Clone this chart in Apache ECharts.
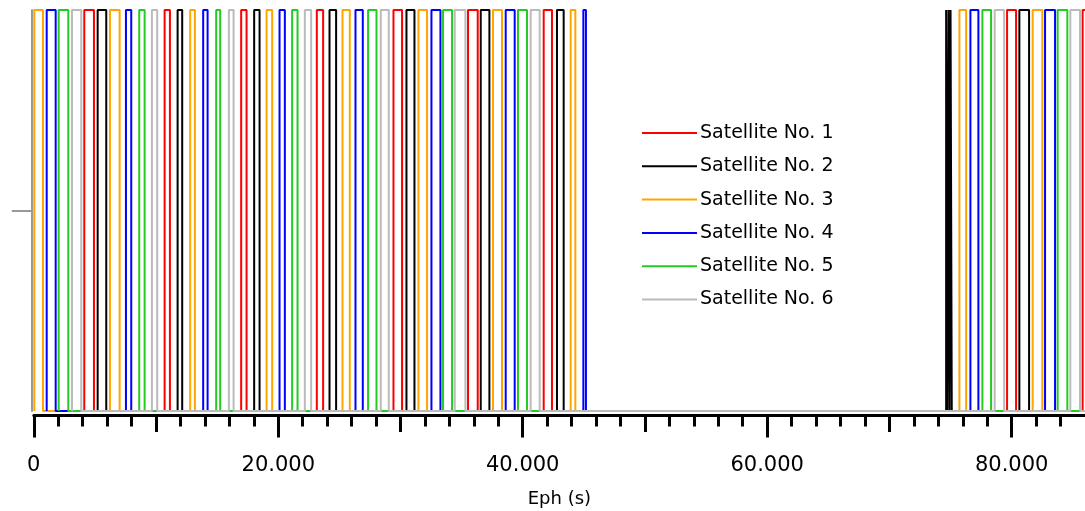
<!DOCTYPE html>
<html>
<head>
<meta charset="utf-8">
<script src="https://cdn.jsdelivr.net/npm/echarts@6/dist/echarts.min.js"></script>
<style>
html,body{margin:0;padding:0;background:#fff;}
#chart{width:1085px;height:511px;}
</style>
</head>
<body>
<div id="chart"></div>
<script>
// ---- data (seconds) ----
const satNames = ['Satellite No. 1','Satellite No. 2','Satellite No. 3','Satellite No. 4','Satellite No. 5','Satellite No. 6'];
const satColors = ['#ff0000','#000000','#ffa500','#0000ff','#22cc22','#bbbbbb'];
const xMin = 0;
const xMax = 86000;
// pulses [start, end] where value = 1
const sat1 = [[4129,4922],[10702,11136],[16965,17406],[23154,23670],[29425,30128],[35525,36318],[41714,42393],[79625,80361],[85806,86000]];
const sat2 = [[5224,5927],[11765,12141],[18028,18470],[24193,24733],[30488,31142],[36563,37274],[42801,43349],[74640,74740],[74830,74920],[75000,75100],[80630,81424]];
const sat3 = [[40,750],[6230,7023],[12795,13180],[19042,19500],[25255,25852],[31469,32173],[37569,38305],[43921,44305],[75726,76274],[81719,82512]];
const sat4 = [[1055,1790],[7538,7972],[13858,14218],[20104,20538],[26318,26915],[32532,33268],[38607,39342],[44959,45172],[76625,77279],[82732,83550]];
const sat5 = [[2036,2821],[8626,9067],[14921,15248],[21135,21576],[27349,28036],[33481,34217],[39612,40348],[77606,78317],[83763,84556]];
const sat6 = [[3123,3884],[9664,10097],[15960,16344],[22173,22688],[28387,29041],[34437,35312],[40651,41387],[78612,79381],[84801,85594]];
const satPulses = [sat1, sat2, sat3, sat4, sat5, sat6];
// axis ticks
const majorTicks = [0,20000,40000,60000,80000];
const majorLabels = ['0','20.000','40.000','60.000','80.000'];
const midTicks = [10000,30000,50000,70000];
const minorTicks = [0,2000,4000,6000,8000,10000,12000,14000,16000,18000,20000,22000,24000,26000,28000,30000,32000,34000,36000,38000,40000,42000,44000,46000,48000,50000,52000,54000,56000,58000,60000,62000,64000,66000,68000,70000,72000,74000,76000,78000,80000,82000,84000];
const yTicks = [0.5];

function toSteps(pulses, end) {
  const pts = [];
  pulses.forEach(function (p) {
    pts.push([p[0], 0], [p[0], 1], [p[1], 1]);
    if (p[1] < end) pts.push([p[1], 0]);
  });
  const last = pts[pts.length - 1];
  if (last[0] < end) pts.push([end, last[1]]);
  return pts;
}

const FONT = 'DejaVu Sans';
const chart = echarts.init(document.getElementById('chart'), null, {renderer: 'canvas'});

const series = satNames.map(function (name, i) {
  return {
    name: name,
    type: 'line',
    xAxisIndex: 0,
    yAxisIndex: 0,
    data: toSteps(satPulses[i], xMax),
    symbol: 'none',
    showSymbol: false,
    clip: false,
    lineStyle: {color: satColors[i], width: 2},
    itemStyle: {color: satColors[i]},
    emphasis: {disabled: true},
    animation: false
  };
});

function makeX(ticks, len, showLine, showLabel) {
  return {
    type: 'value',
    gridIndex: 0,
    position: 'bottom',
    min: xMin,
    max: xMax,
    offset: 4.5,
    splitLine: {show: false},
    axisLine: {show: showLine, onZero: false, lineStyle: {color: '#000', width: 3}},
    axisTick: {show: true, customValues: ticks, length: len, lineStyle: {color: '#000', width: 3}},
    axisLabel: showLabel ? {
      show: true,
      customValues: majorTicks,
      formatter: function (v) { return majorLabels[majorTicks.indexOf(v)]; },
      margin: 40,
      color: '#000',
      fontFamily: FONT,
      fontSize: 21
    } : {show: false},
    name: showLabel ? 'Eph (s)' : '',
    nameLocation: 'middle',
    nameGap: 75,
    nameTextStyle: {color: '#000', fontFamily: FONT, fontSize: 18}
  };
}

chart.setOption({
  animation: false,
  backgroundColor: '#fff',
  grid: {left: 33.8, right: 0, top: 10, bottom: 100, containLabel: false, outerBoundsMode: 'none'},
  legend: {
    orient: 'vertical',
    left: 642,
    top: 123.5,
    padding: 0,
    icon: 'rect',
    itemWidth: 55,
    itemHeight: 2,
    itemGap: 14.3,
    data: satNames,
    textStyle: {color: '#000', fontFamily: FONT, fontSize: 19, padding: [0, 0, 0, -2]},
    selectedMode: false
  },
  xAxis: [
    makeX(majorTicks, 22, true, true),
    makeX(midTicks, 16.5, false, false),
    makeX(minorTicks, 11, false, false)
  ],
  yAxis: {
    type: 'value',
    min: 0,
    max: 1,
    offset: 2,
    splitLine: {show: false},
    axisLine: {show: true, onZero: false, lineStyle: {color: '#999', width: 2}},
    axisTick: {show: true, customValues: yTicks, length: 20, lineStyle: {color: '#999', width: 2}},
    axisLabel: {show: false}
  },
  series: series
});
</script>
</body>
</html>
